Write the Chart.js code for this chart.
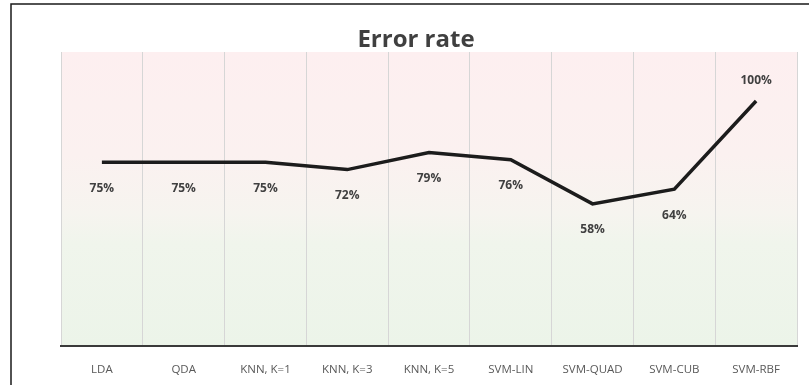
<!DOCTYPE html>
<html>
<head>
<meta charset="utf-8">
<script src="https://cdn.jsdelivr.net/npm/chart.js@4.4.1/dist/chart.umd.min.js"></script>
<style>
  html, body { margin: 0; padding: 0; background: #ffffff; }
  #wrap { width: 809px; height: 385px; position: relative; }
</style>
</head>
<body>
<div id="wrap"><canvas id="chart"></canvas></div>
<script>
// Classifier names along the x axis
const categories = ['LDA', 'QDA', 'KNN, K=1', 'KNN, K=3', 'KNN, K=5', 'SVM-LIN', 'SVM-QUAD', 'SVM-CUB', 'SVM-RBF'];
// Error rate per classifier, in percent
const errorRates = [75, 75, 75, 72, 79, 76, 58, 64, 100];
// Value range of the hidden y axis
const yRange = [0, 120];
const chartTitle = 'Error rate';

// Soft pink-to-green wash behind the plot, plus the outer frame
const backdrop = {
  id: 'backdrop',
  beforeDraw(chart) {
    const { ctx, chartArea: a, width, height } = chart;
    ctx.save();
    const g = ctx.createLinearGradient(0, a.top, 0, a.bottom);
    g.addColorStop(0, '#fdeff0');
    g.addColorStop(0.35, '#fbf1f0');
    g.addColorStop(0.55, '#f6f4ef');
    g.addColorStop(0.65, '#f0f5ec');
    g.addColorStop(1, '#ecf4e9');
    ctx.fillStyle = g;
    ctx.fillRect(a.left, a.top, a.right - a.left, a.bottom - a.top);
    ctx.strokeStyle = '#1a1a1a';
    ctx.lineWidth = 1.5;
    ctx.beginPath();
    ctx.moveTo(11, height + 5);
    ctx.lineTo(11, 4);
    ctx.lineTo(width + 5, 4);
    ctx.stroke();
    ctx.restore();
  }
};

// Heading above the plot, centred on the page rather than the plot area
const heading = {
  id: 'heading',
  afterDraw(chart) {
    const { ctx } = chart;
    ctx.save();
    ctx.font = 'bold 24px "Open Sans", sans-serif';
    ctx.fillStyle = '#404040';
    ctx.textAlign = 'center';
    ctx.textBaseline = 'alphabetic';
    ctx.fillText(chartTitle, 416, 47);
    ctx.restore();
  }
};

// Percentage labels beside each point: below, except the peak which sits above
const valueLabels = {
  id: 'valueLabels',
  afterDatasetsDraw(chart) {
    const { ctx } = chart;
    const meta = chart.getDatasetMeta(0);
    const data = chart.data.datasets[0].data;
    const peak = Math.max(...data);
    ctx.save();
    ctx.font = 'bold 12px "Open Sans", sans-serif';
    ctx.fillStyle = '#404040';
    ctx.textAlign = 'center';
    ctx.textBaseline = 'middle';
    meta.data.forEach((pt, i) => {
      const dy = data[i] === peak ? -20 : 26;
      ctx.fillText(data[i] + '%', pt.x, pt.y + dy);
    });
    ctx.restore();
  }
};

new Chart(document.getElementById('chart'), {
  type: 'line',
  data: {
    labels: categories,
    datasets: [{
      data: errorRates,
      borderColor: '#1c1c1c',
      borderWidth: 3.5,
      pointRadius: 0,
      tension: 0,
      fill: false
    }]
  },
  options: {
    responsive: true,
    maintainAspectRatio: false,
    animation: false,
    layout: { padding: { left: 61, right: 12, top: 52, bottom: 0 } },
    plugins: {
      legend: { display: false },
      tooltip: { enabled: false },
      title: { display: false }
    },
    scales: {
      x: {
        offset: true,
        grid: { offset: true, color: '#d6d6d6', lineWidth: 1, drawTicks: false },
        border: { color: '#3a3a3a', width: 2 },
        ticks: {
          color: '#595959',
          padding: 17,
          font: { family: '"Open Sans", sans-serif', size: 11.5 },
          maxRotation: 0,
          autoSkip: false
        },
        afterFit(scale) { scale.height = 39; }
      },
      y: {
        display: false,
        min: yRange[0],
        max: yRange[1]
      }
    }
  },
  plugins: [backdrop, valueLabels, heading]
});
</script>
</body>
</html>
